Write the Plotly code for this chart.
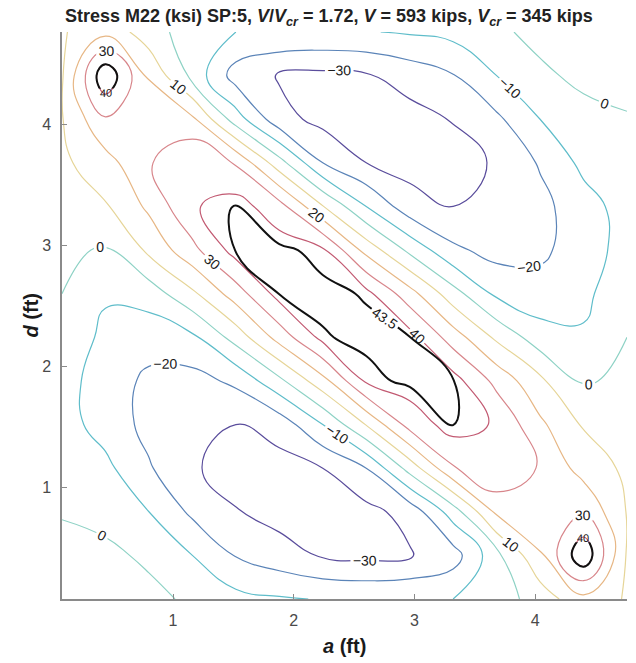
import plotly.graph_objects as go

# grid positions (ft)
a_ft = [0.08, 0.44, 0.80, 1.16, 1.52, 1.88, 2.24, 2.60, 2.96, 3.32, 3.68, 4.04, 4.40, 4.76]
d_ft = [0.08, 0.44, 0.80, 1.16, 1.52, 1.88, 2.24, 2.60, 2.96, 3.32, 3.68, 4.04, 4.40, 4.76]

# stress M22 (ksi), one list per d row, values along a
m22_d0_08 = [6.5, 5.5, 3, -2, -7, -9, -10.5, -11, -10.5, -10, -5, 4.5, 17, 9]
m22_d0_44 = [4.5, 2.5, -2, -10, -20.5, -26, -31, -32.5, -31, -24.5, -3, 18.5, 48, 9]
m22_d0_80 = [-1, -3.5, -10, -22, -29.5, -33.5, -35, -33, -26.5, -5, 22, 29, 29, 9.5]
m22_d1_16 = [-4, -7.5, -19, -29, -33.5, -33.5, -30, -20, 4, 29, 39.5, 29, 16, 8]
m22_d1_52 = [-6, -14, -23, -28.5, -30, -26, -10, 10.5, 34, 44.2, 39, 22, 9, 5.5]
m22_d1_88 = [-6, -15, -22, -23.5, -18, -2.5, 16.5, 41.5, 45, 44, 27, 12, -1, 2]
m22_d2_24 = [-4, -12, -16, -12, 4, 24, 43, 45, 43.8, 25, 8, -5.5, -9, 0]
m22_d2_60 = [0, -9, -5.5, 8, 25, 43.8, 45, 43, 24, 4, -12, -16, -12, -4]
m22_d2_96 = [2, -1, 12, 27, 44, 45, 41.5, 16.5, -2.5, -18, -23.5, -22, -15, -6]
m22_d3_32 = [5.5, 9, 22, 39, 44.2, 34, 10.5, -10, -26, -30, -28.5, -23, -14, -6]
m22_d3_68 = [8, 16, 29, 39.5, 29, 4, -20, -30, -33.5, -33.5, -29, -19, -7.5, -4]
m22_d4_04 = [9.5, 29, 29, 22, -5, -26.5, -33, -35, -33.5, -29.5, -22, -10, -3.5, -1]
m22_d4_40 = [9, 48, 18.5, -3, -24.5, -31, -32.5, -31, -26, -20.5, -10, -2, 2.5, 4.5]
m22_d4_76 = [9, 17, 4.5, -5, -10, -10.5, -11, -10.5, -9, -7, -2, 3, 5.5, 6.5]

stress = [m22_d0_08, m22_d0_44, m22_d0_80, m22_d1_16, m22_d1_52, m22_d1_88, m22_d2_24,
          m22_d2_60, m22_d2_96, m22_d3_32, m22_d3_68, m22_d4_04, m22_d4_40, m22_d4_76]

levels = [-30, -20, -10, 0, 10, 20, 30, 40]
level_colors = ["#5a4d9c", "#5b84b8", "#5fbdca", "#8ed2c5", "#e6d598", "#e7b785", "#d8868b", "#c25a72"]
ridge_level = 43.5
peak_level = 40

tick_vals = [1, 2, 3, 4]
tick_text = ["1", "2", "3", "4"]

lo, hi = levels[0], levels[-1]
cscale = [[(v - lo) / (hi - lo), c] for v, c in zip(levels, level_colors)]
black_scale = [[0, "#111111"], [1, "#111111"]]
label_font = dict(family="Liberation Sans, Arial, sans-serif", size=14, color="#1a1a1a")
small_label_font = dict(family="Liberation Sans, Arial, sans-serif", size=11, color="#1a1a1a")


def sub(rows, r0, r1, c0, c1):
    return [row[c0:c1] for row in rows[r0:r1]]


fig = go.Figure()
fig.add_trace(go.Contour(
    x=a_ft, y=d_ft, z=stress, zmin=lo, zmax=hi, autocontour=False,
    contours=dict(start=lo, end=hi, size=10, coloring="lines",
                  showlabels=True, labelfont=label_font),
    colorscale=cscale, showscale=False,
    line=dict(width=1.2, smoothing=1.3), hoverinfo="skip"))

# black 43.5 ridge contour (central part of the grid)
fig.add_trace(go.Contour(
    x=a_ft[2:12], y=d_ft[2:12], z=sub(stress, 2, 12, 2, 12), autocontour=False,
    contours=dict(start=ridge_level, end=ridge_level, size=1, coloring="lines",
                  showlabels=True, labelfont=label_font, labelformat=".1f"),
    colorscale=black_scale, showscale=False,
    line=dict(width=2, smoothing=1.3), hoverinfo="skip"))

# black 40 loops around the two corner peaks
fig.add_trace(go.Contour(
    x=a_ft[:4], y=d_ft[10:], z=sub(stress, 10, 14, 0, 4), autocontour=False,
    contours=dict(start=peak_level, end=peak_level, size=1, coloring="lines",
                  showlabels=True, labelfont=small_label_font),
    colorscale=black_scale, showscale=False,
    line=dict(width=2, smoothing=1.3), hoverinfo="skip"))
fig.add_trace(go.Contour(
    x=a_ft[10:], y=d_ft[:4], z=sub(stress, 0, 4, 10, 14), autocontour=False,
    contours=dict(start=peak_level, end=peak_level, size=1, coloring="lines",
                  showlabels=True, labelfont=small_label_font),
    colorscale=black_scale, showscale=False,
    line=dict(width=2, smoothing=1.3), hoverinfo="skip"))

axis_common = dict(
    tickvals=tick_vals, ticktext=tick_text, ticks="inside", ticklen=5,
    tickcolor="#8a8a8a", tickwidth=1.2, showline=True, linecolor="#8a8a8a",
    linewidth=1.5, mirror=False, showgrid=False, zeroline=False,
    tickfont=dict(family="Liberation Sans, Arial, sans-serif", size=16, color="#4a4a4a"),
)

fig.update_layout(
    width=636, height=663,
    margin=dict(l=62, r=9, t=32, b=64),
    paper_bgcolor="white", plot_bgcolor="white",
    showlegend=False,
    title=dict(
        text="<b>Stress M22 (ksi) SP:5, <i>V</i>/<i>V</i><sub><i>cr</i></sub> = 1.72, "
             "<i>V</i> = 593 kips, <i>V</i><sub><i>cr</i></sub> = 345 kips</b>",
        font=dict(family="Liberation Sans, Arial, sans-serif", size=18, color="#222222"),
        x=0.517, xref="container", xanchor="center",
        y=1 - 16 / 663, yref="container", yanchor="middle"),
    xaxis=dict(range=[a_ft[0], a_ft[-1]], ticklabelstandoff=6, **axis_common),
    yaxis=dict(range=[d_ft[0], d_ft[-1]], ticklabelstandoff=6, **axis_common),
    annotations=[
        dict(text="<b><i>a</i> (ft)</b>", xref="paper", yref="paper", x=0.5, y=-0.083,
             showarrow=False, xanchor="center", yanchor="middle",
             font=dict(family="Liberation Sans, Arial, sans-serif", size=20, color="#1a1a1a")),
        dict(text="<b><i>d</i> (ft)</b>", xref="paper", yref="paper", x=-0.055, y=0.5,
             showarrow=False, xanchor="center", yanchor="middle", textangle=-90,
             font=dict(family="Liberation Sans, Arial, sans-serif", size=20, color="#1a1a1a")),
    ],
)

fig.write_html("out.html")
